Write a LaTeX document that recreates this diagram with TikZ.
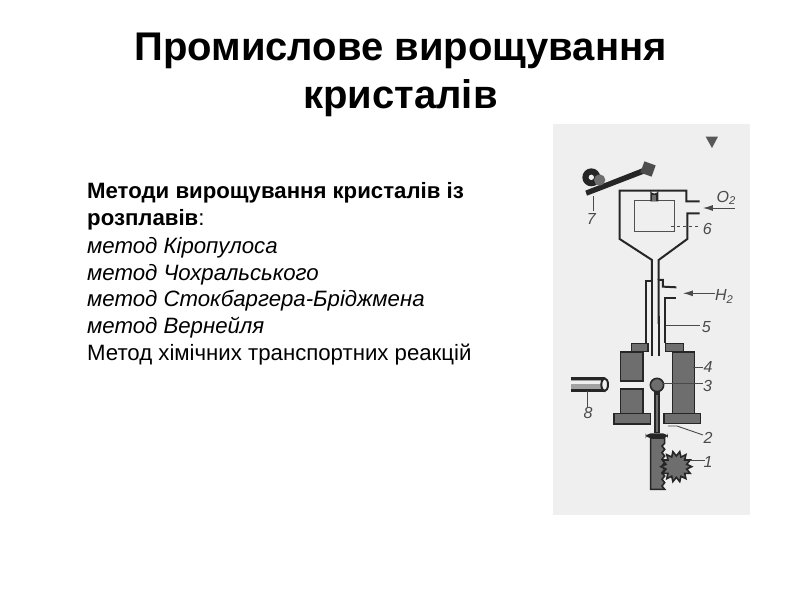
\documentclass[tikz,border=0pt]{standalone}
\usepackage{fontspec}
\setmainfont{Liberation Sans}
\usetikzlibrary{arrows.meta}
\definecolor{ink}{HTML}{262626}
\definecolor{panel}{HTML}{EFEFEF}
\definecolor{midg}{HTML}{6E6E6E}
\definecolor{labelg}{HTML}{4A4A4A}
\tikzset{
 titletext/.style={anchor=base,font=\fontsize{40}{40}\selectfont\bfseries,text=black,inner sep=0},
 bodytext/.style={anchor=base west,font=\fontsize{22.2}{24}\selectfont,text=black,inner sep=0},
 wall/.style={draw=ink,line width=2pt,line join=miter},
 thin wall/.style={draw=ink!80!white,line width=1pt},
 leader/.style={draw=labelg,line width=.9pt},
 block/.style={draw=ink,line width=1.6pt,fill=midg},
 num/.style={font=\fontsize{16}{16}\selectfont\itshape,text=labelg,inner sep=0},
}
\begin{document}
\begin{tikzpicture}[x=1pt,y=-1pt]
\useasboundingbox (0,0) rectangle (800,600);
\fill[white] (0,0) rectangle (800,600);
\node[titletext] (t1) at (400.5,60) {Промислове вирощування};
\node[titletext] (t2) at (400.5,108) {кристалів};
\node[bodytext] (b1) at (87,198) {\bfseries Методи вирощування кристалів із};
\node[bodytext] (b2) at (87,225) {{\bfseries розплавів}:};
\node[bodytext] (b3) at (87,253) {\itshape метод Кіропулоса};
\node[bodytext] (b4) at (87,280) {\itshape метод Чохральського};
\node[bodytext] (b5) at (87,306) {\itshape метод Стокбаргера-Бріджмена};
\node[bodytext] (b6) at (87,333) {\itshape метод Вернейля};
\node[bodytext] (b7) at (87,360) {Метод хімічних транспортних реакцій};
\fill[panel] (553,124) rectangle (750,515);
% upper part of the apparatus
\begin{scope}[shift={(553,124)},x=.3333pt,y=-.3333pt]
\fill[midg!80!black] (458,38) -- (495,38) -- (477,72) -- cycle;
% lever and cam
\fill[ink] (97,200) -- (270,132) -- (276,148) -- (102,215) -- cycle;
\fill[midg!70!black,rotate around={-20:(285,135)}] (267,117) rectangle (303,153);
\fill[ink] (115,160) circle (27);
\fill[midg] (140,168) circle (17);
\fill[panel] (115,160) circle (8);
\draw[leader] (120,215) -- (120,262);
\node[num] (n7) at (115,285) {7};
% crystallisation chamber
\draw[wall] (440,232) -- (400,232) -- (400,200) -- (200,200) -- (200,345) -- (297,408) -- (297,470);
\draw[wall] (440,268) -- (403,268) -- (403,345) -- (317,408) -- (317,468);
\draw[thin wall] (243,230) rectangle (365,322);
\fill[ink] (292,232) -- (292,197) arc (180:0:12) -- (316,232) -- cycle;
\fill[midg] (298,212) rectangle (310,230);
\draw[leader,dashed] (355,306) -- (445,306);
\node[num] (n6) at (463,314) {6};
\draw[leader,-{Latex[length=10pt,width=6pt]}] (545,252) -- (450,252);
\node[num] (o2) at (520,222) {O$_{\mathit 2}$};
% burner tube
\draw[wall] (280,600) -- (280,470) -- (297,470) -- (297,600);
\draw[wall] (317,600) -- (317,468) -- (330,468) -- (330,488) -- (370,490);
\draw[wall] (336,600) -- (336,522) -- (370,522);
\draw[leader,-{Latex[length=10pt,width=6pt]}] (485,508) -- (390,508);
\node[num] (h2) at (514,518) {H$_{\mathit 2}$};
\end{scope}
% lower part of the apparatus
\begin{scope}[shift={(553,320)},x=.3333pt,y=-.3333pt]
\draw[wall] (280,-12) -- (280,70);
\draw[wall] (336,-12) -- (336,70);
\draw[wall] (297,-12) -- (297,108);
\draw[wall] (317,-12) -- (317,108);
\draw[leader] (338,16) -- (440,16);
\node[num] (n5) at (460,20) {5};
\draw[block] (235,70) rectangle (285,95);
\draw[block] (338,70) rectangle (392,95);
\draw[block] (202,96) rectangle (270,183);
\draw[block] (358,96) rectangle (425,280);
\draw[block] (203,207) rectangle (270,280);
\draw[block] (183,281) rectangle (293,312);
\draw[block] (333,281) rectangle (443,310);
\draw[leader] (420,142) -- (450,142);
\node[num] (n4) at (465,141) {4};
% rod and seed
\fill[ink] (304,210) rectangle (322,340);
\fill[midg] (309,225) rectangle (316,335);
\draw[block] (312,195) circle (20);
\draw[leader] (330,190) -- (450,190);
\node[num] (n3) at (464,198) {3};
\fill[ink,rounded corners=5pt] (278,340) rectangle (345,355);
\draw[leader] (345,318) -- (372,318) -- (450,345);
\node[num] (n2) at (465,353) {2};
% rack and gear
\draw[block] (293,354) -- (335,354) -- (335,370) -- (327,378) -- (335,388) -- (327,398) -- (335,408) -- (327,418) -- (335,428) -- (327,438) -- (335,448) -- (327,458) -- (335,468) -- (327,478) -- (335,488) -- (327,498) -- (335,508) -- (293,508) -- cycle;
\draw[block] plot[samples at={0,12.857,...,350},variable=\a] ({370+(mod(round(\a/12.857),2)==0 ? 46 : 32)*cos(\a)},{440+(mod(round(\a/12.857),2)==0 ? 46 : 32)*sin(\a)}) -- cycle;
\draw[leader] (410,422) -- (455,422);
\node[num] (n1) at (465,427) {1};
% viewing tube
\fill[midg!60!panel] (55,175) rectangle (152,212);
\fill[panel] (55,183) rectangle (152,192);
\draw[wall,line width=2.4pt] (55,175) -- (152,175);
\draw[wall,line width=2.4pt] (55,212) -- (152,212);
\draw[wall,fill=panel] (155,194) ellipse (10 and 19);
\draw[leader] (103,214) -- (103,260);
\node[num] (n8) at (105,280) {8};
\end{scope}
\end{tikzpicture}
\end{document}
